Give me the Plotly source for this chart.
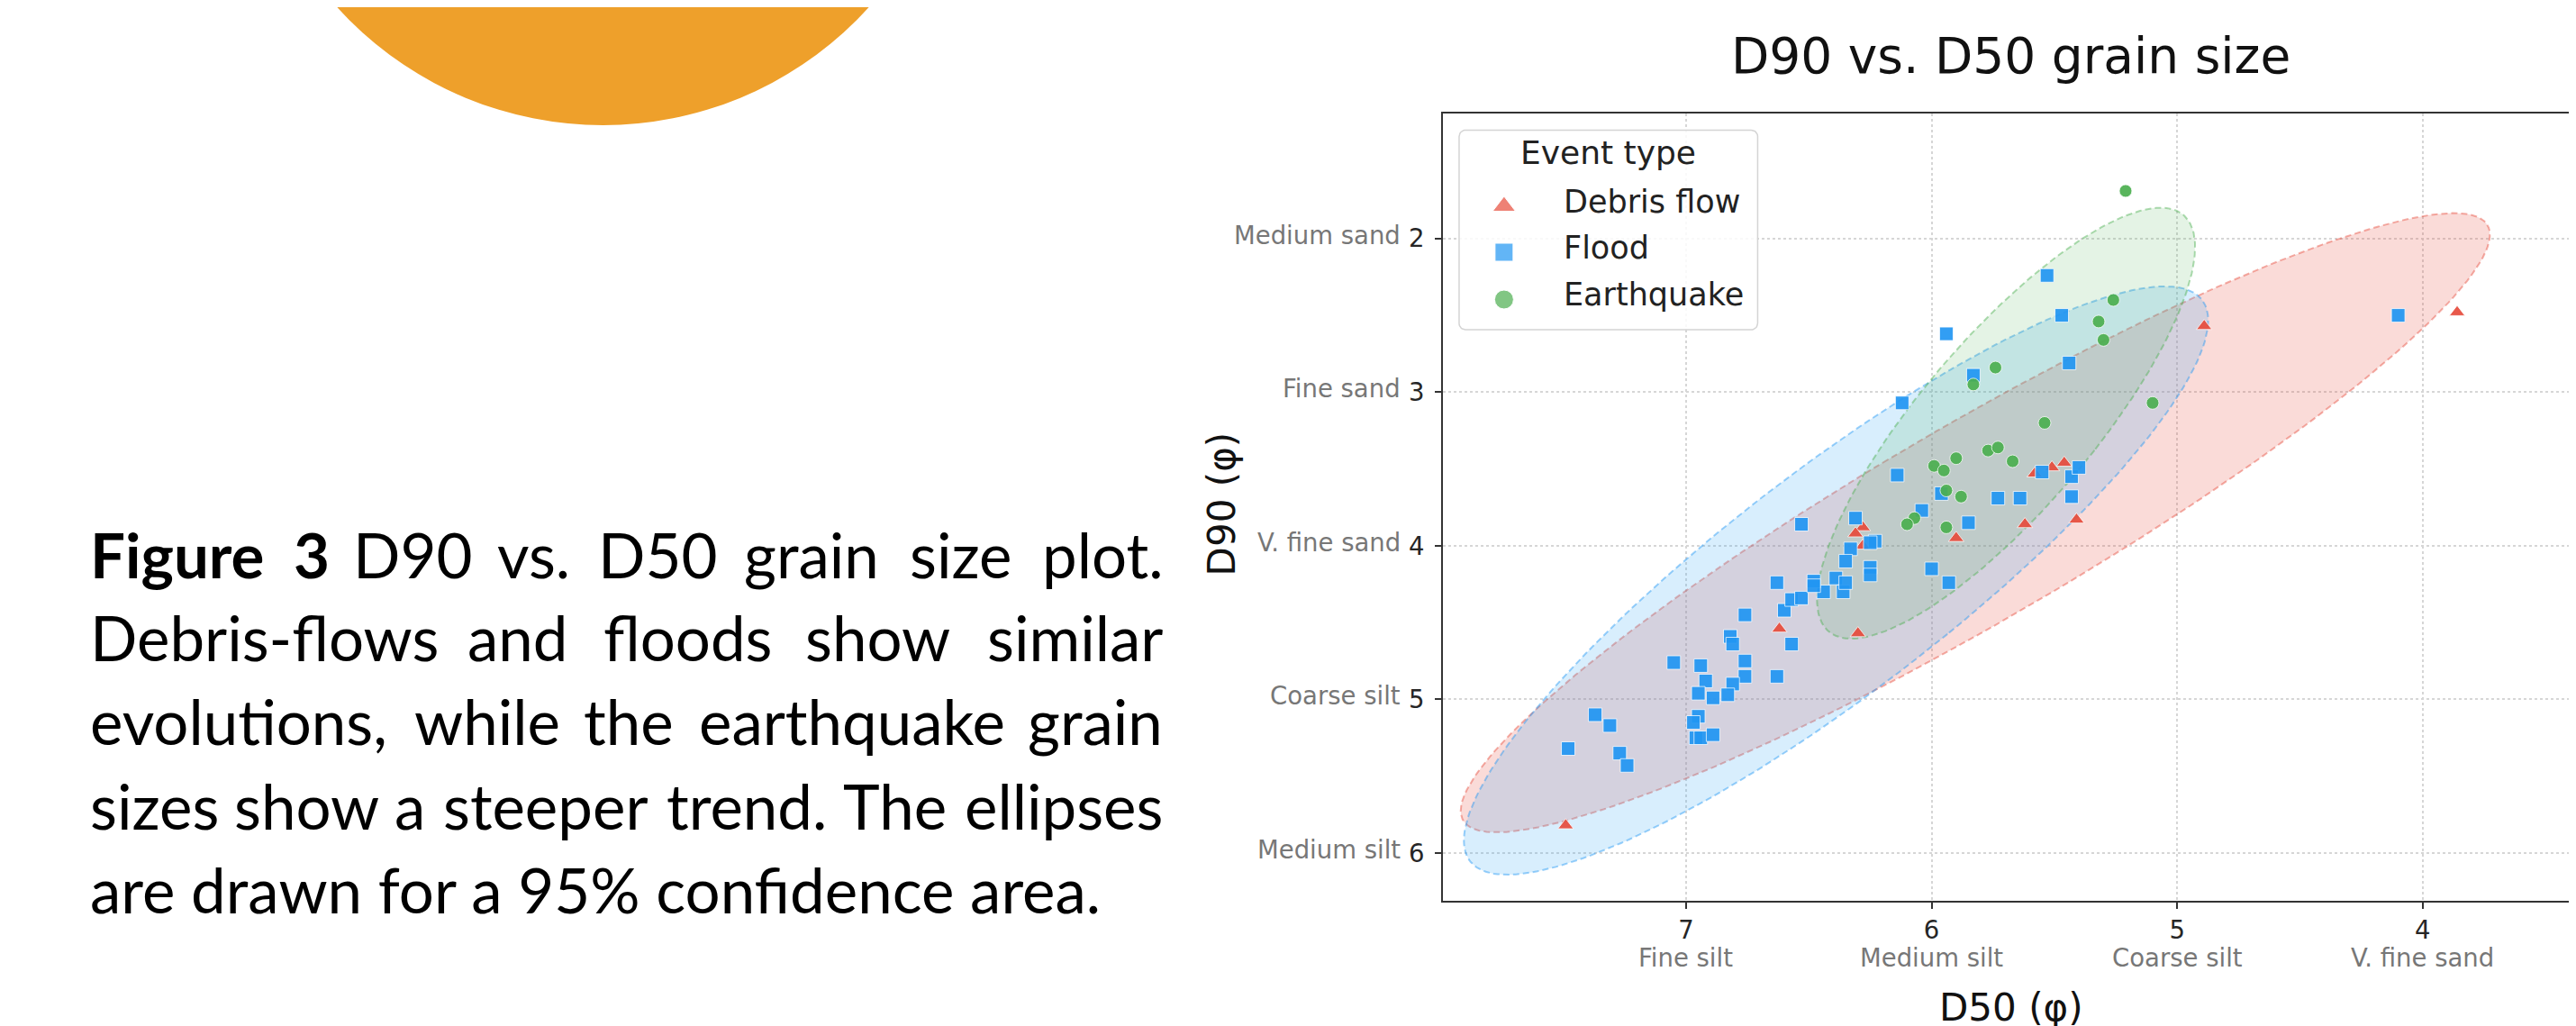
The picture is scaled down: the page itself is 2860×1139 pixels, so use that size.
import numpy as np
import plotly.graph_objects as go

# ---------------- data ----------------
debris_d50 = [6.28, 6.31, 6.28, 5.90, 6.62, 6.30, 7.49, 5.58, 5.51, 5.46, 5.62, 5.41, 4.89, 3.86]
debris_d90 = [3.88, 3.92, 4.00, 3.95, 4.54, 4.57, 5.82, 3.53, 3.49, 3.46, 3.86, 3.83, 2.57, 2.48]

flood_d50 = [6.82, 6.81, 6.57, 7.05, 6.94, 6.76, 6.76, 6.63, 6.92, 6.81, 6.95, 6.89, 6.83,
             7.37, 7.31, 6.95, 6.97, 6.96, 6.94, 6.89, 7.48, 7.27, 7.24, 6.76, 6.60, 6.57,
             6.53, 6.44, 6.36, 6.14, 5.96, 6.04, 5.85, 6.31, 6.53, 6.23, 6.25, 6.33, 6.35,
             6.25, 6.25, 6.00, 5.93, 6.39, 6.35, 6.48, 6.48, 6.63, 5.44, 5.83, 6.12, 5.55,
             5.43, 5.40, 5.73, 5.64, 5.43, 5.53, 5.47, 5.94, 4.10]
flood_d90 = [4.59, 4.64, 4.64, 4.76, 4.78, 4.75, 4.85, 4.85, 4.88, 4.90, 4.96, 4.99, 4.97,
             5.10, 5.17, 5.11, 5.15, 5.25, 5.25, 5.23, 5.32, 5.35, 5.43, 4.45, 4.42, 4.35,
             4.34, 4.30, 4.30, 3.54, 3.66, 3.77, 3.85, 3.82, 3.86, 3.97, 3.98, 4.02, 4.10,
             4.14, 4.19, 4.15, 4.24, 4.21, 4.24, 4.23, 4.26, 4.24, 2.81, 2.89, 3.07, 3.52,
             3.55, 3.49, 3.69, 3.69, 3.68, 2.24, 2.50, 2.62, 2.50]

quake_d50 = [5.21, 5.26, 5.32, 5.30, 5.74, 5.83, 5.10, 5.54, 5.77, 5.73, 5.90, 5.67, 5.99,
             5.95, 5.94, 5.88, 6.07, 6.10, 5.94]
quake_d90 = [1.69, 2.40, 2.54, 2.66, 2.84, 2.95, 3.07, 3.20, 3.38, 3.36, 3.43, 3.45, 3.48,
             3.51, 3.64, 3.68, 3.82, 3.86, 3.88]

series_names = ["Debris flow", "Flood", "Earthquake"]
x_ticks = [7, 6, 5, 4]
x_tick_classes = ["Fine silt", "Medium silt", "Coarse silt", "V. fine sand"]
y_ticks = [2, 3, 4, 5, 6]
y_tick_classes = ["Medium sand", "Fine sand", "V. fine sand", "Coarse silt", "Medium silt"]

# ---------------- styling / layout ----------------
RED, BLUE, GREEN = "#E74C3C", "#2196F3", "#4CAF50"
FIG_W, FIG_H = 2860, 1139
L, R, T, B = 1594, 2857, 118, 992     # plot area in pixels
DY = -4                                # small vertical correction for text boxes


def px(x):
    return (x - L) / (R - L)


def py(y):
    return (B - y) / (B - T)


CHI2_95 = 5.991464547107979


def conf_ellipse(x, y, n=240):
    x = np.asarray(x, float)
    y = np.asarray(y, float)
    cov = np.cov(x, y)
    vals, vecs = np.linalg.eigh(cov)
    t = np.linspace(0, 2 * np.pi, n)
    circ = np.vstack([np.cos(t), np.sin(t)])
    pts = vecs @ (np.sqrt(vals * CHI2_95)[:, None] * circ)
    return x.mean() + pts[0], y.mean() + pts[1]


fig = go.Figure()

# (x, y, marker colour, ellipse fill, ellipse edge, symbol, size)
groups = [
    (debris_d50, debris_d90, RED, "rgba(231,76,60,0.20)", "rgba(231,76,60,0.45)", "triangle-up", 15),
    (flood_d50, flood_d90, BLUE, "rgba(70,175,245,0.21)", "rgba(33,150,243,0.45)", "square", 15),
    (quake_d50, quake_d90, GREEN, "rgba(76,175,80,0.15)", "rgba(76,175,80,0.45)", "circle", 14),
]

for gx, gy, _, fillc, edgec, _, _ in groups:
    ex, ey = conf_ellipse(gx, gy)
    fig.add_trace(go.Scatter(
        x=ex, y=ey, mode="lines", fill="toself", fillcolor=fillc,
        line=dict(color=edgec, width=2, dash="7px,4px"),
        hoverinfo="skip", showlegend=False))

for (gx, gy, col, _, _, sym, size), name in zip(groups, series_names):
    fig.add_trace(go.Scatter(
        x=gx, y=gy, mode="markers", name=name, showlegend=False,
        marker=dict(symbol=sym, size=size, color=col, opacity=0.92,
                    line=dict(color="white", width=0.8))))

# ---------------- custom legend (pixel overlay axes) ----------------
def rounded_rect(x0, y0, x1, y1, r, n=10):
    xs, ys = [], []
    corners = [(x1 - r, y0 + r, -90, 0), (x1 - r, y1 - r, 0, 90),
               (x0 + r, y1 - r, 90, 180), (x0 + r, y0 + r, 180, 270)]
    for cx, cy, a0, a1 in corners:
        for a in np.linspace(np.radians(a0), np.radians(a1), n):
            xs.append(cx + r * np.cos(a))
            ys.append(cy + r * np.sin(a))
    xs.append(xs[0])
    ys.append(ys[0])
    return xs, ys


LEG_BOX = (1612, 136.5, 1944, 358)
bx, by = rounded_rect(*LEG_BOX, r=7)
fig.add_trace(go.Scatter(x=bx, y=by, xaxis="x2", yaxis="y2", mode="lines", fill="toself",
                         fillcolor="rgba(255,255,255,0.85)",
                         line=dict(color="#d4d4d4", width=1.5),
                         hoverinfo="skip", showlegend=False))
leg_x = 1662
leg_y = [221, 272, 324.5]
fig.add_trace(go.Scatter(
    x=[leg_x] * 3, y=leg_y, xaxis="x2", yaxis="y2", mode="markers",
    marker=dict(symbol=["triangle-up", "square", "circle"], size=[22, 20, 21],
                color=[RED, BLUE, GREEN], line=dict(color="white", width=1)),
    hoverinfo="skip", showlegend=False))

annotations = []
annotations.append(dict(text="Event type", x=px(1778), y=py(166 + DY), xref="paper", yref="paper",
                        xanchor="center", yanchor="middle", showarrow=False,
                        font=dict(family="DejaVu Sans", size=36, color="#222")))
for name, yy in zip(series_names, [219.6, 271.4, 323.2]):
    annotations.append(dict(text=name, x=px(1726), y=py(yy + DY), xref="paper", yref="paper",
                            xanchor="left", yanchor="middle", showarrow=False,
                            font=dict(family="DejaVu Sans", size=35, color="#222")))

# ---------------- tick class labels ----------------
for v, lab in zip(y_ticks, y_tick_classes):
    annotations.append(dict(text=lab, x=0, xref="paper", xshift=-(L - 1549), y=v, yref="y",
                            yshift=-DY, xanchor="right", yanchor="middle", showarrow=False,
                            font=dict(family="DejaVu Sans", size=27.5, color="#777")))
for v, lab in zip(x_ticks, x_tick_classes):
    annotations.append(dict(text=lab, x=v, xref="x", y=0, yref="paper", yshift=-(1059 + DY - B),
                            xanchor="center", yanchor="middle", showarrow=False,
                            font=dict(family="DejaVu Sans", size=27.5, color="#777")))

# ---------------- titles ----------------
annotations.append(dict(text="D90 vs. D50 grain size", x=px(2225.5), y=py(58 + DY), xref="paper",
                        yref="paper", xanchor="center", yanchor="middle", showarrow=False,
                        font=dict(family="DejaVu Sans", size=55, color="#111")))
annotations.append(dict(text="D50 (φ)", x=px(2225.5), y=py(1110), xref="paper", yref="paper",
                        xanchor="center", yanchor="middle", showarrow=False,
                        font=dict(family="DejaVu Sans", size=42, color="#111")))
annotations.append(dict(text="D90 (φ)", x=px(1348.5), y=py(555.5 + DY), xref="paper", yref="paper",
                        xanchor="center", yanchor="middle", showarrow=False, textangle=-90,
                        font=dict(family="DejaVu Sans", size=42, color="#111")))

# ---------------- caption (justified word placement) ----------------
CAP_FONT = dict(family="Lato", size=69, color="#000")
CAP_L, CAP_R = 88, 1285
caption_lines = [
    (615, [("<b>Figure</b>", "L", CAP_L), ("<b>3</b>", "C", 335.8), ("D90", "C", 448.6),
           ("vs.", "C", 582.5), ("D50", "C", 721.4), ("grain", "C", 891.4),
           ("size", "C", 1057.2), ("plot.", "R", CAP_R)]),
    (707, [("Debris-flows", "L", CAP_L), ("and", "C", 565.0), ("floods", "C", 754.0),
           ("show", "C", 965.2), ("similar", "R", CAP_R)]),
    (800, [("evolutions,", "L", CAP_L), ("while", "C", 531.0), ("the", "C", 688.2),
           ("earthquake", "C", 937.0), ("grain", "R", CAP_R)]),
    (894, [("sizes", "L", CAP_L), ("show", "C", 330.0), ("a", "C", 444.9),
           ("steeper", "C", 596.6), ("trend.", "C", 819.7), ("The", "C", 984.7),
           ("ellipses", "R", CAP_R)]),
    (987, [("are drawn for a 95% confidence area.", "L", CAP_L)]),
]
anchor_map = {"L": "left", "C": "center", "R": "right"}
for ly, words in caption_lines:
    for w, a, xx in words:
        annotations.append(dict(text=w, x=px(xx), y=py(ly - 8), xref="paper", yref="paper",
                                xanchor=anchor_map[a], yanchor="middle", showarrow=False,
                                font=CAP_FONT))

# ---------------- orange circle ----------------
CX, CY, CR = 660, -268, 399
shapes = [dict(type="circle", xref="paper", yref="paper", x0=px(CX - CR), x1=px(CX + CR),
               y0=py(CY + CR), y1=py(CY - CR), fillcolor="#EEA02B", line=dict(width=0),
               layer="above")]

axis_common = dict(showline=True, mirror=True, linecolor="#333", linewidth=2,
                   ticks="outside", ticklen=7, tickwidth=2, tickcolor="#333",
                   showgrid=True, gridcolor="#d6d6d6", gridwidth=1.5, griddash="dot",
                   zeroline=False, tickfont=dict(family="DejaVu Sans", size=27.5, color="#262626"))

fig.update_layout(
    width=FIG_W, height=FIG_H, autosize=False,
    margin=dict(l=L, r=FIG_W - R, t=T, b=FIG_H - B, pad=0),
    paper_bgcolor="white", plot_bgcolor="white",
    showlegend=False,
    xaxis=dict(range=[7.99, 3.365], tickvals=x_ticks, ticktext=[str(v) for v in x_ticks],
               ticklabelstandoff=0, **axis_common),
    yaxis=dict(range=[6.311, 1.186], tickvals=y_ticks, ticktext=[str(v) for v in y_ticks],
               ticklabelstandoff=6, **axis_common),
    xaxis2=dict(overlaying="x", anchor="y2", range=[L, R], visible=False, fixedrange=True),
    yaxis2=dict(overlaying="y", anchor="x2", range=[B, T], visible=False, fixedrange=True),
    annotations=annotations,
    shapes=shapes,
)

fig.write_html("out.html")
